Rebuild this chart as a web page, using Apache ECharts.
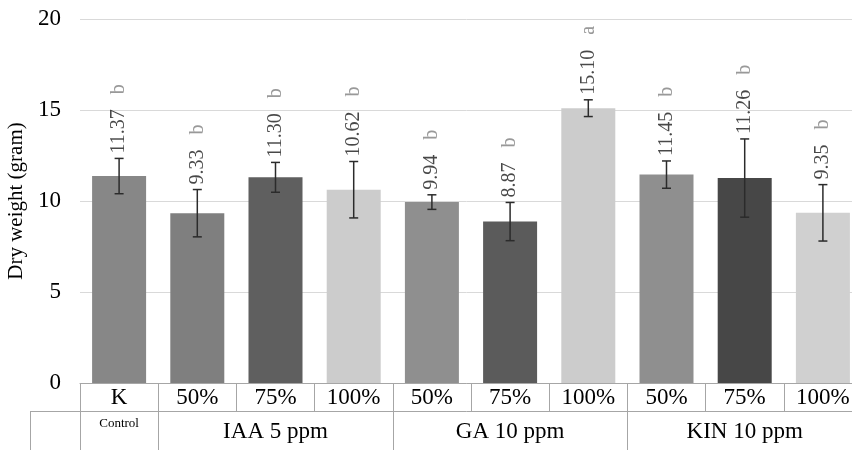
<!DOCTYPE html>
<html>
<head>
<meta charset="utf-8">
<script src="https://cdn.jsdelivr.net/npm/echarts@6/dist/echarts.min.js"></script>
<style>
  html, body { margin: 0; padding: 0; background: #fff; }
  #chart { width: 852px; height: 450px; }
</style>
</head>
<body>
<div id="chart"></div>
<script>
// categories and groups
var categories = ['K', '50%', '75%', '100%', '50%', '75%', '100%', '50%', '75%', '100%'];
var groupNames = ['Control', 'IAA 5 ppm', 'GA 10 ppm', 'KIN 10 ppm'];
var groupSizes = [1, 3, 3, 3];

// dry weight means, error (+/-) and letters
var means = [11.37, 9.33, 11.30, 10.62, 9.94, 8.87, 15.10, 11.45, 11.26, 9.35];
var errors = [0.97, 1.30, 0.82, 1.55, 0.40, 1.05, 0.46, 0.75, 2.15, 1.55];
var letters = ['b', 'b', 'b', 'b', 'b', 'b', 'a', 'b', 'b', 'b'];
var barColors = ['#878787', '#7f7f7f', '#5f5f5f', '#cccccc', '#8f8f8f', '#5b5b5b', '#cccccc', '#8f8f8f', '#474747', '#d0d0d0'];

var yTicks = [0, 5, 10, 15, 20];

var font = "'Liberation Serif', 'Times New Roman', serif";
var tableColor = '#a6a6a6';

// group axis helpers
var groupOf = [];
var groupStarts = [];
var groupCenters = {};
var pos = 0;
for (var g = 0; g < groupNames.length; g++) {
  groupStarts.push(pos);
  groupCenters[pos + Math.floor(groupSizes[g] / 2)] = groupNames[g];
  for (var k = 0; k < groupSizes[g]; k++) groupOf.push(groupNames[g]);
  pos += groupSizes[g];
}

var chart = echarts.init(document.getElementById('chart'));

var option = {
  animation: false,
  grid: { left: 80, right: -10, top: 19, bottom: 67, containLabel: false, outerBoundsMode: 'none' },
  xAxis: [
    {
      type: 'category',
      data: categories,
      axisLine: { show: true, lineStyle: { color: tableColor, width: 1 } },
      axisTick: { show: true, interval: 0, length: 28, lineStyle: { color: tableColor } },
      axisLabel: { interval: 0, margin: 3, fontFamily: font, fontSize: 23, color: '#000' }
    },
    {
      type: 'category',
      data: groupOf,
      position: 'bottom',
      offset: 28,
      axisLine: { show: true, lineStyle: { color: tableColor, width: 1 } },
      axisTick: {
        show: true,
        length: 45,
        interval: function (i) { return groupStarts.indexOf(i) >= 0; },
        lineStyle: { color: tableColor }
      },
      axisLabel: {
        margin: 6,
        interval: function (i) { return groupCenters[i] !== undefined; },
        formatter: function (v, i) {
          return v === 'Control' ? '{c|' + v + '}' : '{g|' + v + '}';
        },
        rich: {
          c: { fontFamily: font, fontSize: 13, color: '#000' },
          g: { fontFamily: font, fontSize: 23, color: '#000', padding: [3, 0, 0, 0] }
        }
      }
    }
  ],
  yAxis: {
    type: 'value',
    min: yTicks[0],
    max: yTicks[yTicks.length - 1],
    interval: 5,
    name: 'Dry weight (gram)',
    nameLocation: 'middle',
    nameGap: 50,
    nameTextStyle: { fontFamily: font, fontSize: 21, color: '#000' },
    axisLine: { show: false },
    axisTick: { show: false },
    axisLabel: { margin: 19, fontFamily: font, fontSize: 23, color: '#000' },
    splitLine: { lineStyle: { color: '#d9d9d9', width: 1 } }
  },
  graphic: [
    { type: 'line', shape: { x1: 30, y1: 411.5, x2: 80, y2: 411.5 }, style: { stroke: tableColor, lineWidth: 1 } },
    { type: 'line', shape: { x1: 30.5, y1: 411, x2: 30.5, y2: 450 }, style: { stroke: tableColor, lineWidth: 1 } }
  ],
  series: [
    {
      type: 'bar',
      barWidth: 54,
      data: means.map(function (v, i) {
        return { value: v, itemStyle: { color: barColors[i] } };
      })
    },
    {
      type: 'custom',
      data: means.map(function (v, i) { return [i, v - errors[i], v + errors[i]]; }),
      renderItem: function (params, api) {
        var lo = api.coord([api.value(0), api.value(1)]);
        var hi = api.coord([api.value(0), api.value(2)]);
        var w = 4.5;
        var st = { stroke: '#2b2b2b', lineWidth: 1.5 };
        return {
          type: 'group',
          children: [
            { type: 'line', shape: { x1: lo[0], y1: lo[1], x2: hi[0], y2: hi[1] }, style: st },
            { type: 'line', shape: { x1: hi[0] - w, y1: hi[1], x2: hi[0] + w, y2: hi[1] }, style: st },
            { type: 'line', shape: { x1: lo[0] - w, y1: lo[1], x2: lo[0] + w, y2: lo[1] }, style: st }
          ]
        };
      },
      z: 5
    },
    {
      type: 'scatter',
      symbolSize: 0,
      data: means.map(function (v, i) { return [i, v + errors[i]]; }),
      label: {
        show: true,
        position: 'top',
        distance: 5,
        rotate: 90,
        align: 'left',
        verticalAlign: 'middle',
        formatter: function (p) {
          var i = p.dataIndex;
          return '{v|' + means[i].toFixed(2) + '}{l|' + letters[i] + '}';
        },
        rich: {
          v: { fontFamily: font, fontSize: 20, color: '#1a1a1a' },
          l: { fontFamily: font, fontSize: 20, color: '#808080', padding: [0, 0, 0, 15] }
        }
      },
      z: 6
    }
  ]
};

chart.setOption(option);
</script>
</body>
</html>
